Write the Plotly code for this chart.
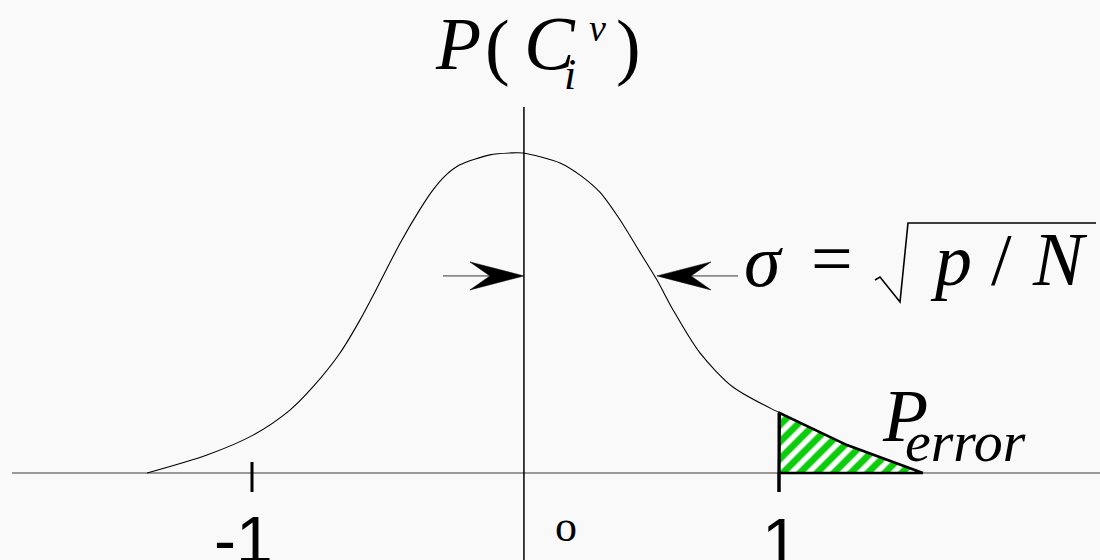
import plotly.graph_objects as go

# Sampled density curve (z in units of sigma, height relative to peak)
z_vals = [-1.398, -1.171, -0.996, -0.856, -0.769, -0.666, -0.590, -0.514, -0.438,
          -0.362, -0.313, -0.268, -0.211, -0.097, -0.021, 0.028, 0.169, 0.245,
          0.321, 0.397, 0.472, 0.537, 0.598, 0.700, 0.825, 1.003, 1.258, 1.546]
density = [0.000, 0.056, 0.118, 0.196, 0.268, 0.374, 0.477, 0.595, 0.716,
           0.822, 0.882, 0.925, 0.960, 0.991, 0.997, 0.997, 0.966, 0.928,
           0.874, 0.788, 0.688, 0.601, 0.508, 0.374, 0.268, 0.187, 0.087, 0.000]

tick_vals = [-1, 1]
tick_text = ["-1", "1"]
error_threshold = 1.0          # tail beyond this is the error region
sigma_level = 0.614            # height at which the width arrows sit
axis_z = 0.032                 # position of the vertical axis

W, H = 1100, 560
# pixel geometry of the plotting frame (margins are zero)
X0_PX, X_SCALE = 515.5, 263.5
Y0_PX, Y_SCALE = 473.0, 321.0
x_range = [(0 - X0_PX) / X_SCALE, (W - X0_PX) / X_SCALE]
y_range = [(Y0_PX - H) / Y_SCALE, (Y0_PX - 0) / Y_SCALE]


def dx(px):
    return px / X_SCALE


def dy(px):
    return px / Y_SCALE


def PX(px):
    return px / W


def PY(py):
    return 1 - py / H


fig = go.Figure()

# horizontal axis line
fig.add_trace(go.Scatter(x=[x_range[0] + dx(12), x_range[1]], y=[0, 0], mode="lines",
                         line=dict(color="#3a3a3a", width=1.2), hoverinfo="skip"))
# vertical axis line
fig.add_trace(go.Scatter(x=[axis_z, axis_z], y=[dy(Y0_PX - 107), y_range[0]], mode="lines",
                         line=dict(color="black", width=1.5), hoverinfo="skip"))

# density curve
fig.add_trace(go.Scatter(x=z_vals, y=density, mode="lines", line_shape="spline",
                         line=dict(color="black", width=1.1, smoothing=0.8), hoverinfo="skip"))

# hatched tail region
tail_x = [error_threshold] + [z for z in z_vals if z >= error_threshold] + [error_threshold]
tail_y = [0] + [d for z, d in zip(z_vals, density) if z >= error_threshold] + [0]
fig.add_trace(go.Scatter(x=tail_x, y=tail_y, mode="lines", fill="toself",
                         fillcolor="white",
                         fillpattern=dict(shape="/", fgcolor="#0ccc0c", bgcolor="white",
                                          fgopacity=1, size=12, solidity=0.55),
                         line=dict(color="black", width=2.6), hoverinfo="skip"))

# tick marks
for t in tick_vals:
    top = dy(11) if t < 0 else 0
    fig.add_trace(go.Scatter(x=[t, t], y=[top, -dy(19)], mode="lines",
                             line=dict(color="black", width=3), hoverinfo="skip"))
# left edge of tail region, continued down as the tick at 1
tail_top = tail_y[1]
fig.add_trace(go.Scatter(x=[error_threshold, error_threshold], y=[tail_top, -dy(19)], mode="lines",
                         line=dict(color="black", width=3), hoverinfo="skip"))


# width arrows pointing at the axis and at the curve
def arrow(tip_x, direction):
    # direction +1 points right, -1 points left
    head_len, notch, half_w, shaft = dx(54), dx(34), dy(14), dx(81)
    fig.add_trace(go.Scatter(x=[tip_x - direction * notch, tip_x - direction * shaft],
                             y=[sigma_level, sigma_level], mode="lines",
                             line=dict(color="#8a8a8a", width=1.6), hoverinfo="skip"))
    fig.add_trace(go.Scatter(
        x=[tip_x, tip_x - direction * head_len, tip_x - direction * notch,
           tip_x - direction * head_len, tip_x],
        y=[sigma_level, sigma_level + half_w, sigma_level, sigma_level - half_w, sigma_level],
        mode="lines", fill="toself", fillcolor="black",
        line=dict(color="black", width=0.5), hoverinfo="skip"))


arrow(axis_z, +1)
arrow(0.537, -1)

SERIF = "Liberation Serif"
SANS = "Arial"


def glyph(text, cx, baseline, size, family=SERIF):
    fig.add_annotation(text=text, x=PX(cx), y=PY(baseline - 0.35 * size),
                       xref="paper", yref="paper", xanchor="center", yanchor="middle",
                       showarrow=False, font=dict(family=family, size=size, color="black"))


# P(C_i^v)
glyph("<i>P</i>", 458, 70, 74)
glyph("(", 497, 72, 74)
glyph("<i>C</i>", 550, 70, 76)
glyph("<i>v</i>", 597, 41, 38)
glyph("<i>i</i>", 570, 90, 44)
glyph(")", 628, 72, 74)

# sigma = sqrt(p / N)
glyph("<i>σ</i>", 763, 287, 74)
glyph("=", 832, 284, 74)
glyph("<i>p</i>", 951, 286, 74)
glyph("/", 1001, 286, 74)
glyph("<i>N</i>", 1060, 286, 76)
fig.add_shape(type="path", xref="paper", yref="paper",
              path=f"M {PX(875)} {PY(280)} L {PX(880)} {PY(277)} L {PX(900)} {PY(302)} "
                   f"L {PX(908)} {PY(223)} L {PX(1096)} {PY(223)}",
              line=dict(color="black", width=1.6))

# P_error
glyph("<i>P</i>", 905, 442, 74)
glyph("<i>error</i>", 965, 462, 58)

# axis labels
glyph(tick_text[0], 243, 563, 66, SANS)
glyph(tick_text[1], 780, 565, 66, SANS)
glyph("o", 566, 542, 44)

fig.update_layout(
    width=W, height=H, autosize=False,
    margin=dict(l=0, r=0, t=0, b=0),
    paper_bgcolor="#f9f9f9", plot_bgcolor="#f9f9f9",
    showlegend=False,
    xaxis=dict(range=x_range, visible=False, fixedrange=True),
    yaxis=dict(range=y_range, visible=False, fixedrange=True),
)

fig.write_html("out.html")
